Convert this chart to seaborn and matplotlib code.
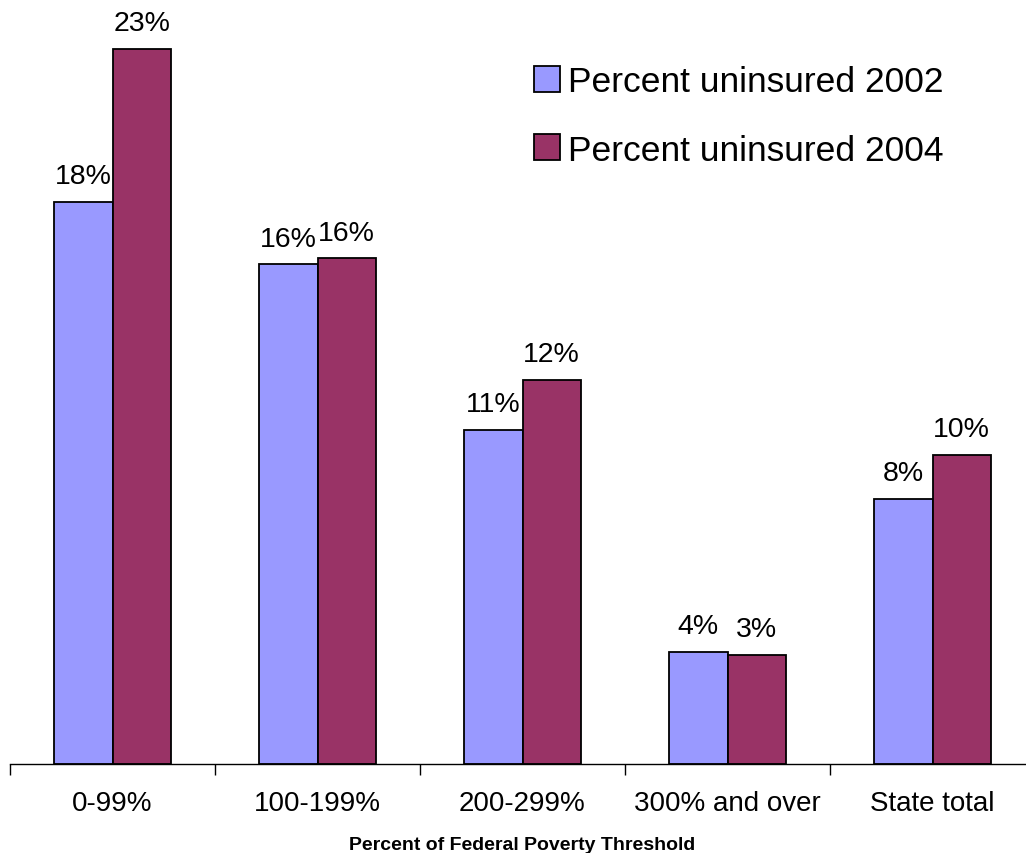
import matplotlib
matplotlib.use("Agg")
import matplotlib.pyplot as plt
import seaborn as sns
import pandas as pd
import numpy as np

# data (percent uninsured)
categories = ["0-99%", "100-199%", "200-299%", "300% and over", "State total"]
uninsured_2002 = [18.0, 16.0, 10.7, 3.6, 8.5]
uninsured_2004 = [22.9, 16.2, 12.3, 3.5, 9.9]
labels_2002 = ["18%", "16%", "11%", "4%", "8%"]
labels_2004 = ["23%", "16%", "12%", "3%", "10%"]
series = ["Percent uninsured 2002", "Percent uninsured 2004"]
colors = ["#9999FF", "#993366"]

df = pd.DataFrame({
    "category": categories * 2,
    "value": uninsured_2002 + uninsured_2004,
    "series": [series[0]] * 5 + [series[1]] * 5,
})

sns.set_style("white")
plt.rcParams["font.family"] = ["Liberation Sans", "DejaVu Sans"]
plt.rcParams["text.color"] = "black"
plt.rcParams["xtick.color"] = "black"
plt.rcParams["axes.labelcolor"] = "black"
plt.rcParams["axes.edgecolor"] = "black"

fig = plt.figure(figsize=(10.26, 8.54), dpi=100)
ax = fig.add_axes([10 / 1026, 89 / 854, 1025 / 1026, 765 / 854])

sns.barplot(data=df, x="category", y="value", hue="series", palette=colors,
            width=0.57, edgecolor="black", linewidth=1.3, saturation=1,
            ax=ax)

for cont, labs in zip(ax.containers, [labels_2002, labels_2004]):
    ax.bar_label(cont, labels=labs, padding=9, fontsize=20.5, color="black")

ax.set_xlim(-0.5, 4.5)
ax.set_ylim(0, 24.5)
for s in ["top", "right", "left"]:
    ax.spines[s].set_visible(False)
ax.spines["bottom"].set_linewidth(1.0)
ax.set_yticks([])
ax.set_ylabel("")

ax.set_xticks(np.arange(-0.5, 4.6, 1), minor=True)
ax.tick_params(axis="x", which="major", length=0, pad=19, labelsize=20)
ax.tick_params(axis="x", which="minor", length=8, width=1.0, direction="out",
               bottom=True)
ax.set_xlabel("Percent of Federal Poverty Threshold", fontsize=14,
              fontweight="bold", labelpad=14)

leg = ax.legend(loc="upper left", bbox_to_anchor=(0.48, 0.955), frameon=False,
                fontsize=25.5, handlelength=0.75, handleheight=0.75,
                handletextpad=0.2, labelspacing=1.0)

fig.savefig("out.png", dpi=100)
